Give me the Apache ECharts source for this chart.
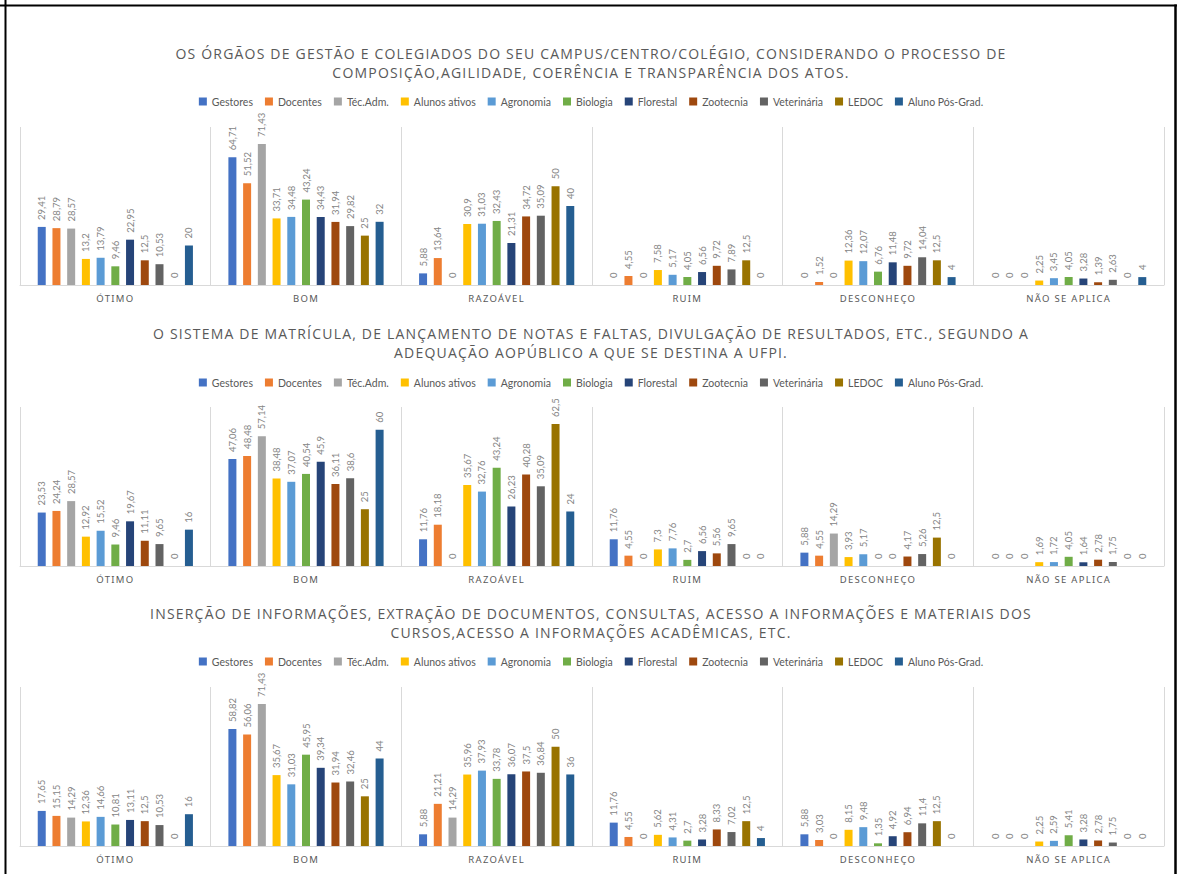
<!DOCTYPE html>
<html>
<head>
<meta charset="utf-8">
<script src="https://cdn.jsdelivr.net/npm/echarts@6/dist/echarts.min.js"></script>
<style>
  html, body { margin: 0; padding: 0; background: #ffffff; }
  #chart { width: 1182px; height: 874px; }
  /* spaced capitals for the chart titles and the category names */
  #chart text[style*="Open Sans"] { letter-spacing: 1.2px; }
  #chart text[style*="Noto Sans"] { letter-spacing: 1.3px; }
</style>
</head>
<body>
<div id="chart"></div>
<script>
// Answer categories (x axis) and respondent groups (one bar series each)
const categories = ['ÓTIMO', 'BOM', 'RAZOÁVEL', 'RUIM', 'DESCONHEÇO', 'NÃO SE APLICA'];
const groups = ['Gestores', 'Docentes', 'Téc.Adm.', 'Alunos ativos', 'Agronomia', 'Biologia',
                'Florestal', 'Zootecnia', 'Veterinária', 'LEDOC', 'Aluno Pós-Grad.'];
const groupColors = ['#4472C4', '#ED7D31', '#A5A5A5', '#FFC000', '#5B9BD5', '#70AD47',
                     '#264478', '#9E480E', '#636363', '#997300', '#255E91'];

// Question 1: órgãos de gestão e colegiados (%), one row per answer category
const orgaosGestao = [
  [29.41, 28.79, 28.57, 13.2, 13.79, 9.46, 22.95, 12.5, 10.53, 0, 20],
  [64.71, 51.52, 71.43, 33.71, 34.48, 43.24, 34.43, 31.94, 29.82, 25, 32],
  [5.88, 13.64, 0, 30.9, 31.03, 32.43, 21.31, 34.72, 35.09, 50, 40],
  [0, 4.55, 0, 7.58, 5.17, 4.05, 6.56, 9.72, 7.89, 12.5, 0],
  [0, 1.52, 0, 12.36, 12.07, 6.76, 11.48, 9.72, 14.04, 12.5, 4],
  [0, 0, 0, 2.25, 3.45, 4.05, 3.28, 1.39, 2.63, 0, 4]
];

// Question 2: sistema de matrícula, notas e faltas (%)
const sistemaMatricula = [
  [23.53, 24.24, 28.57, 12.92, 15.52, 9.46, 19.67, 11.11, 9.65, 0, 16],
  [47.06, 48.48, 57.14, 38.48, 37.07, 40.54, 45.9, 36.11, 38.6, 25, 60],
  [11.76, 18.18, 0, 35.67, 32.76, 43.24, 26.23, 40.28, 35.09, 62.5, 24],
  [11.76, 4.55, 0, 7.3, 7.76, 2.7, 6.56, 5.56, 9.65, 0, 0],
  [5.88, 4.55, 14.29, 3.93, 5.17, 0, 0, 4.17, 5.26, 12.5, 0],
  [0, 0, 0, 1.69, 1.72, 4.05, 1.64, 2.78, 1.75, 0, 0]
];

// Question 3: inserção de informações, documentos e consultas (%)
const insercaoInformacoes = [
  [17.65, 15.15, 14.29, 12.36, 14.66, 10.81, 13.11, 12.5, 10.53, 0, 16],
  [58.82, 56.06, 71.43, 35.67, 31.03, 45.95, 39.34, 31.94, 32.46, 25, 44],
  [5.88, 21.21, 14.29, 35.96, 37.93, 33.78, 36.07, 37.5, 36.84, 50, 36],
  [11.76, 4.55, 0, 5.62, 4.31, 2.7, 3.28, 8.33, 7.02, 12.5, 4],
  [5.88, 3.03, 0, 8.15, 9.48, 1.35, 4.92, 6.94, 11.4, 12.5, 0],
  [0, 0, 0, 2.25, 2.59, 5.41, 3.28, 2.78, 1.75, 0, 0]
];

const panelTitles = [
  'OS ÓRGÃOS DE GESTÃO E COLEGIADOS DO SEU CAMPUS/CENTRO/COLÉGIO, CONSIDERANDO O PROCESSO DE\nCOMPOSIÇÃO,AGILIDADE, COERÊNCIA E TRANSPARÊNCIA DOS ATOS.',
  'O SISTEMA DE MATRÍCULA, DE LANÇAMENTO DE NOTAS E FALTAS, DIVULGAÇÃO DE RESULTADOS, ETC., SEGUNDO A\nADEQUAÇÃO AOPÚBLICO A QUE SE DESTINA A UFPI.',
  'INSERÇÃO DE INFORMAÇÕES, EXTRAÇÃO DE DOCUMENTOS, CONSULTAS, ACESSO A INFORMAÇÕES E MATERIAIS DOS\nCURSOS,ACESSO A INFORMAÇÕES ACADÊMICAS, ETC.'
];
const panelData = [orgaosGestao, sistemaMatricula, insercaoInformacoes];
const panelMax = [80, 70, 80];

// Vertical layout of each panel: title, legend, plot area
const panelLayout = [
  { titleTop: 44, legendTop: 96, gridTop: 127, gridHeight: 158 },
  { titleTop: 324, legendTop: 377, gridTop: 407, gridHeight: 159 },
  { titleTop: 604, legendTop: 656, gridTop: 687, gridHeight: 159 }
];

const textGray = '#595959';
const lineGray = '#d9d9d9';

const title = [], legend = [], grid = [], xAxis = [], yAxis = [], series = [];

panelLayout.forEach((lay, p) => {
  title.push({
    text: panelTitles[p],
    left: 'center',
    top: lay.titleTop,
    padding: 0,
    textStyle: {
      fontFamily: 'Open Sans',
      fontSize: 14,
      fontWeight: 'normal',
      color: textGray,
      lineHeight: 19
    }
  });
  legend.push({
    data: groups,
    left: 'center',
    top: lay.legendTop,
    padding: 0,
    icon: 'rect',
    itemWidth: 8,
    itemHeight: 8,
    itemGap: 12,
    textStyle: { fontFamily: 'Lato', fontSize: 10.5, color: textGray }
  });
  grid.push({ left: 20, right: 18, top: lay.gridTop, height: lay.gridHeight });
  xAxis.push({
    type: 'category',
    gridIndex: p,
    data: categories,
    axisLine: { lineStyle: { color: lineGray, width: 1 } },
    axisTick: { show: false },
    splitLine: { show: true, interval: 0, lineStyle: { color: lineGray, width: 1 } },
    axisLabel: {
      interval: 0,
      margin: 8,
      fontFamily: 'Noto Sans',
      fontSize: 9.5,
      color: textGray
    }
  });
  yAxis.push({
    type: 'value',
    gridIndex: p,
    min: 0,
    max: panelMax[p],
    show: false,
    splitLine: { show: false }
  });
  groups.forEach((name, g) => {
    series.push({
      type: 'bar',
      name: name,
      xAxisIndex: p,
      yAxisIndex: p,
      data: panelData[p].map(row => row[g]),
      barWidth: 8,
      barGap: '84%',
      itemStyle: { color: groupColors[g] },
      label: {
        show: true,
        position: 'top',
        rotate: 90,
        align: 'left',
        verticalAlign: 'middle',
        distance: 7,
        fontFamily: 'Lato',
        fontSize: 9.5,
        color: '#858585',
        formatter: prm => String(prm.value).replace('.', ',')
      }
    });
  });
});

const chart = echarts.init(document.getElementById('chart'), null, { renderer: 'svg' });
chart.setOption({
  backgroundColor: '#ffffff',
  animation: false,
  color: groupColors,
  title, legend, grid, xAxis, yAxis, series,
  graphic: [
    // frame lines along the top and both sides
    { type: 'line', shape: { x1: 0, y1: 5.5, x2: 1177, y2: 5.5 }, style: { stroke: '#000', lineWidth: 2 } },
    { type: 'line', shape: { x1: 5.5, y1: 0, x2: 5.5, y2: 874 }, style: { stroke: '#000', lineWidth: 2 } },
    { type: 'line', shape: { x1: 1175.5, y1: 4.5, x2: 1175.5, y2: 874 }, style: { stroke: '#000', lineWidth: 2.5 } }
  ]
});
</script>
</body>
</html>
